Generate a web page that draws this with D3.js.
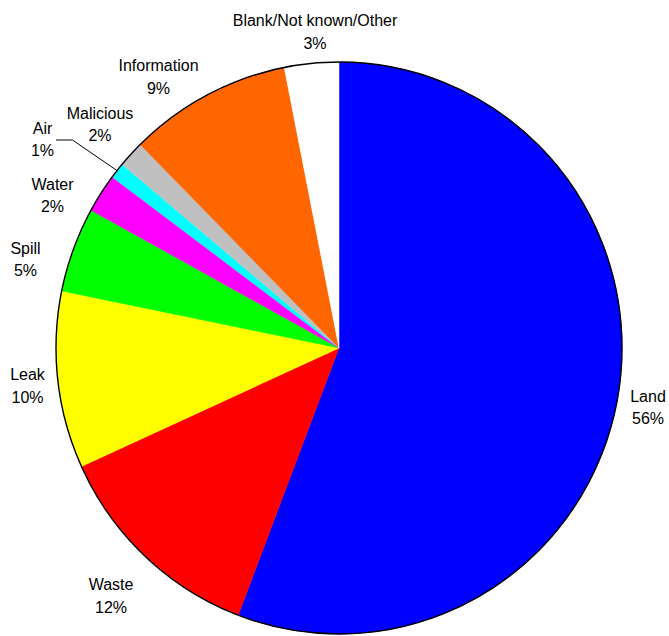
<!DOCTYPE html>
<html>
<head>
<meta charset="utf-8">
<script src="https://cdn.jsdelivr.net/npm/d3@7"></script>
<style>
  html, body { margin: 0; padding: 0; background: #fff; }
  svg { display: block; }
  text { font-family: "Liberation Sans", Arial, sans-serif; font-size: 16px; fill: #000; }
</style>
</head>
<body>
<svg id="chart" width="669" height="636"></svg>
<script>
// Incident sources, share of total (%)
const categories = ["Land", "Waste", "Leak", "Spill", "Water", "Air", "Malicious", "Information", "Blank/Not known/Other"];
const shares     = [55.8, 12.4, 10.0, 4.8, 2.2, 0.9, 1.5, 9.3, 3.1];
const pctLabels  = ["56%", "12%", "10%", "5%", "2%", "1%", "2%", "9%", "3%"];
const colors     = ["#0000FF", "#FF0000", "#FFFF00", "#00FF00", "#FF00FF", "#00FFFF", "#C0C0C0", "#FF6600", "#FFFFFF"];

// Label anchor points (centre of the name line baseline)
const labelPos = [
  [648, 401.5], [111, 590], [27.5, 380], [25.5, 253.5], [52.5, 189.5],
  [42.5, 133.5], [100, 118.5], [158.5, 71], [315, 26]
];

const cx = 339, cy = 348, rx = 283, ry = 286;
const svg = d3.select("#chart");

const data = categories.map((name, i) => ({ name, value: shares[i], pct: pctLabels[i], color: colors[i], pos: labelPos[i] }));

const pie = d3.pie().value(d => d.value).sort(null);
const arcs = pie(data);
const arc = d3.arc().innerRadius(0).outerRadius(rx);

const g = svg.append("g").attr("transform", `translate(${cx},${cy}) scale(1,${ry / rx})`);

g.selectAll("path.slice")
  .data(arcs)
  .join("path")
  .attr("class", "slice")
  .attr("d", arc)
  .attr("fill", d => d.data.color)
  .attr("stroke", d => d.data.color)
  .attr("stroke-width", 0.5);

// Outer rim
g.append("circle")
  .attr("r", rx)
  .attr("fill", "none")
  .attr("stroke", "#000")
  .attr("stroke-width", 1.4)
  .attr("vector-effect", "non-scaling-stroke");

// Leader line for the thin "Air" slice
const airArc = arcs[5];
const mid = (airArc.startAngle + airArc.endAngle) / 2;
const ex = cx + rx * Math.sin(mid), ey = cy - ry * Math.cos(mid);
svg.append("polyline")
  .attr("points", `56,140 72.5,140 ${ex},${ey}`)
  .attr("fill", "none")
  .attr("stroke", "#000")
  .attr("stroke-width", 1);

// Labels: name and percentage
const lab = svg.selectAll("g.label")
  .data(arcs)
  .join("g")
  .attr("class", "label")
  .attr("transform", d => `translate(${d.data.pos[0]},${d.data.pos[1]})`);

lab.append("text").attr("text-anchor", "middle").attr("y", 0).text(d => d.data.name);
lab.append("text").attr("text-anchor", "middle").attr("y", 22.5).text(d => d.data.pct);
</script>
</body>
</html>
